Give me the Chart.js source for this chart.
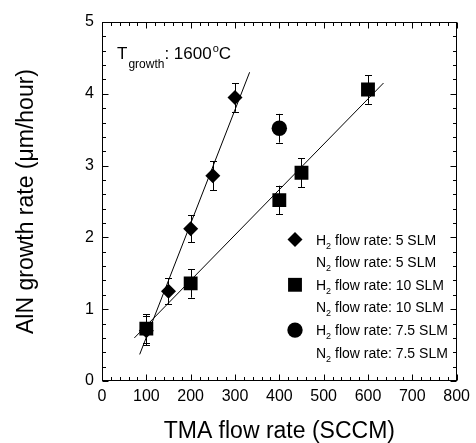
<!DOCTYPE html>
<html>
<head>
<meta charset="utf-8">
<script src="https://cdn.jsdelivr.net/npm/chart.js@4.4.0/dist/chart.umd.min.js"></script>
<style>
    html, body { margin: 0; padding: 0; background: #fff; }
    #wrap { width: 476px; height: 443px; }
</style>
</head>
<body>
<div id="wrap"><canvas id="growthChart" width="476" height="443"></canvas></div>
<script>
const FONT = '"Liberation Sans", Arial, sans-serif';

// H2 flow rate 5 SLM / N2 flow rate 5 SLM
const tma5 = [100, 150, 200, 250, 300];
const rate5 = [0.70, 1.25, 2.12, 2.86, 3.95];
const err5 = [0.2, 0.18, 0.19, 0.2, 0.2];

// H2 flow rate 10 SLM / N2 flow rate 10 SLM
const tma10 = [100, 200, 400, 450, 600];
const rate10 = [0.73, 1.36, 2.52, 2.90, 4.06];
const err10 = [0.2, 0.2, 0.2, 0.2, 0.2];

// H2 flow rate 7.5 SLM / N2 flow rate 7.5 SLM
const tma75 = [400];
const rate75 = [3.52];
const err75 = [0.2];

// fitted lines (end points)
const fit5X = [85, 333];
const fit5Y = [0.37, 4.30];
const fit10X = [73, 635];
const fit10Y = [0.60, 4.15];

// axes
const xTicks = [0, 100, 200, 300, 400, 500, 600, 700, 800];
const yTicks = [0, 1, 2, 3, 4, 5];
const xMinorStep = 20;
const yMinorStep = 0.2;

// legend
const legendFlows = ['5 SLM', '10 SLM', '7.5 SLM'];

function toPoints(xs, ys) {
    return xs.map((x, i) => ({ x: x, y: ys[i] }));
}

// Error bars
const errorBarPlugin = {
    id: 'errorBars',
    afterDatasetsDraw(chart) {
        const ctx = chart.ctx;
        const { x, y } = chart.scales;
        ctx.save();
        ctx.strokeStyle = '#000';
        ctx.lineWidth = 1;
        chart.data.datasets.forEach(ds => {
            if (!ds.errors) return;
            ds.data.forEach((p, i) => {
                const px = Math.round(x.getPixelForValue(p.x)) + 0.5;
                const top = y.getPixelForValue(p.y + ds.errors[i]);
                const bot = y.getPixelForValue(p.y - ds.errors[i]);
                ctx.beginPath();
                ctx.moveTo(px, top);
                ctx.lineTo(px, bot);
                ctx.moveTo(px - 3.5, Math.round(top) + 0.5);
                ctx.lineTo(px + 3.5, Math.round(top) + 0.5);
                ctx.moveTo(px - 3.5, Math.round(bot) + 0.5);
                ctx.lineTo(px + 3.5, Math.round(bot) + 0.5);
                ctx.stroke();
            });
        });
        ctx.restore();
    }
};

// Box with inward ticks, legend, annotation
const framePlugin = {
    id: 'frame',
    afterDraw(chart) {
        const ctx = chart.ctx;
        const a = chart.chartArea;
        const { x, y } = chart.scales;
        const L = Math.round(a.left) + 0.5, R = Math.round(a.right) - 0.5;
        const T = Math.round(a.top) + 0.5, B = Math.round(a.bottom) - 0.5;
        ctx.save();
        ctx.strokeStyle = '#000';
        ctx.lineWidth = 1;
        ctx.strokeRect(L, T, R - L, B - T);

        ctx.beginPath();
        const nx = Math.round((x.max - x.min) / xMinorStep);
        for (let i = 0; i <= nx; i++) {
            const px = Math.round(x.getPixelForValue(x.min + i * xMinorStep)) + 0.5;
            const len = i % 5 === 0 ? 6 : 3.5;
            ctx.moveTo(px, B); ctx.lineTo(px, B - len);
            ctx.moveTo(px, T); ctx.lineTo(px, T + len);
        }
        const ny = Math.round((y.max - y.min) / yMinorStep);
        for (let i = 0; i <= ny; i++) {
            const py = Math.round(y.getPixelForValue(y.min + i * yMinorStep)) + 0.5;
            const len = i % 5 === 0 ? 6 : 3.5;
            ctx.moveTo(L, py); ctx.lineTo(L + len, py);
            ctx.moveTo(R, py); ctx.lineTo(R - len, py);
        }
        ctx.stroke();

        // T_growth label
        ctx.fillStyle = '#000';
        ctx.textBaseline = 'alphabetic';
        ctx.textAlign = 'left';
        let tx = 117;
        ctx.font = '17px ' + FONT;
        ctx.fillText('T', tx, 59);
        tx += ctx.measureText('T').width + 1;
        ctx.font = '12px ' + FONT;
        ctx.fillText('growth', tx, 68);
        tx += ctx.measureText('growth').width;
        ctx.font = '17px ' + FONT;
        ctx.fillText(': 1600', tx, 59);
        tx += ctx.measureText(': 1600').width + 1;
        ctx.font = '11px ' + FONT;
        ctx.fillText('o', tx, 52);
        tx += ctx.measureText('o').width;
        ctx.font = '17px ' + FONT;
        ctx.fillText('C', tx, 59);

        // legend
        const markerX = 295, textX = 316, firstBase = 244.5, step = 22.65;
        chart.data.datasets.slice(0, 3).forEach((ds, k) => {
            const hBase = firstBase + step * 2 * k;
            ctx.fillStyle = '#000';
            Chart.helpers.drawPoint(ctx, {
                pointStyle: ds.pointStyle,
                radius: ds.pointRadius,
                rotation: 0,
                borderWidth: 0
            }, markerX, hBase - 5);
            ['H', 'N'].forEach((gas, r) => {
                const base = hBase + step * r;
                let lx = textX;
                ctx.font = '14px ' + FONT;
                ctx.fillText(gas, lx, base);
                lx += ctx.measureText(gas).width;
                ctx.font = '9px ' + FONT;
                ctx.fillText('2', lx, base + 4);
                lx += ctx.measureText('2').width;
                ctx.font = '14px ' + FONT;
                ctx.fillText(' flow rate: ' + legendFlows[k], lx, base);
            });
        });
        ctx.restore();
    }
};

const ctx = document.getElementById('growthChart').getContext('2d');
new Chart(ctx, {
    type: 'scatter',
    data: {
        datasets: [
            {
                label: 'H2 5 SLM',
                data: toPoints(tma5, rate5),
                errors: err5,
                pointStyle: 'rectRot',
                pointRadius: 7.5,
                backgroundColor: '#000',
                borderWidth: 0
            },
            {
                label: 'H2 10 SLM',
                data: toPoints(tma10, rate10),
                errors: err10,
                pointStyle: 'rect',
                pointRadius: 9.8,
                backgroundColor: '#000',
                borderWidth: 0
            },
            {
                label: 'H2 7.5 SLM',
                data: toPoints(tma75, rate75),
                errors: err75,
                pointStyle: 'circle',
                pointRadius: 7.7,
                backgroundColor: '#000',
                borderWidth: 0
            },
            {
                label: 'fit 5',
                data: toPoints(fit5X, fit5Y),
                showLine: true,
                pointRadius: 0,
                borderColor: '#000',
                borderWidth: 1
            },
            {
                label: 'fit 10',
                data: toPoints(fit10X, fit10Y),
                showLine: true,
                pointRadius: 0,
                borderColor: '#000',
                borderWidth: 1
            }
        ]
    },
    options: {
        responsive: false,
        animation: false,
        devicePixelRatio: 1,
        layout: {
            padding: { top: 22, right: 14, left: 0, bottom: 0 }
        },
        plugins: {
            legend: { display: false },
            tooltip: { enabled: false }
        },
        scales: {
            x: {
                type: 'linear',
                min: 0,
                max: 800,
                afterBuildTicks: axis => { axis.ticks = xTicks.map(v => ({ value: v })); },
                afterFit: axis => { axis.height = 62; },
                grid: { display: false, drawTicks: false },
                border: { display: false },
                ticks: {
                    padding: 6,
                    color: '#000',
                    maxRotation: 0,
                    font: { family: FONT, size: 16 }
                },
                title: {
                    display: true,
                    text: 'TMA flow rate (SCCM)',
                    color: '#000',
                    padding: 0,
                    font: { family: FONT, size: 23, lineHeight: 1 }
                }
            },
            y: {
                type: 'linear',
                min: 0,
                max: 5,
                afterBuildTicks: axis => { axis.ticks = yTicks.map(v => ({ value: v })); },
                afterFit: axis => { axis.width = 102; },
                grid: { display: false, drawTicks: false },
                border: { display: false },
                ticks: {
                    padding: 8,
                    color: '#000',
                    font: { family: FONT, size: 16 }
                },
                title: {
                    display: true,
                    text: 'AlN growth rate (\u03bcm/hour)',
                    color: '#000',
                    padding: { top: 15, bottom: 0 },
                    font: { family: FONT, size: 23, lineHeight: 1 }
                }
            }
        }
    },
    plugins: [errorBarPlugin, framePlugin]
});
</script>
</body>
</html>
